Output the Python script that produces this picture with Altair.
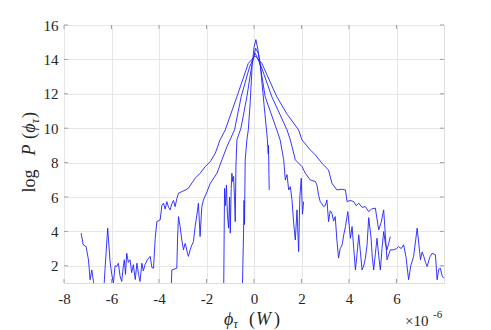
import altair as alt
import pandas as pd

# x in units of 1e-6 W, y = log P
a_x = [-7.28, -7.19, -7.07, -6.97, -6.9, -6.83, -6.76, -6.7, -6.35, -6.27, -6.16, -6.06, -5.99, -5.92, -5.85, -5.78,
       -5.71, -5.64, -5.57, -5.5, -5.46, -5.41, -5.36, -5.29, -5.22, -5.15, -5.08, -5.0, -4.93, -4.86, -4.8, -4.72,
       -4.66, -4.59, -4.49, -4.37, -4.3, -4.23, -4.16, -4.09, -3.95, -3.88, -3.81, -3.74, -3.67, -3.6, -3.53, -3.46,
       -3.39, -3.32, -3.25, -3.18, -3.04, -2.9, -2.76, -2.48, -2.27, -2.05, -1.84, -1.63, -1.43, -1.21, -0.72, -0.24,
       0.05, 0.33, 0.96, 1.4, 1.88, 2.02, 2.37, 2.58, 2.9, 3.14, 3.28, 3.49, 3.7, 3.85, 3.92, 4.05, 4.2, 4.3, 4.41,
       4.55, 4.69, 4.83, 4.95, 5.11, 5.25, 5.35, 5.46, 5.6, 5.74, 5.88, 6.0, 6.09, 6.2, 6.3, 6.4, 6.51, 6.6, 6.72, 6.87,
       7.01, 7.08, 7.15, 7.22, 7.29, 7.4, 7.5, 7.64, 7.71, 7.78, 7.85, 7.92, 7.99]
a_y = [3.9, 3.22, 3.12, 2.35, 1.19, 1.76, 1.09, 0.0, 0.0, 1.86, 4.19, 2.25, 1.5, 1.0, 2.0, 1.96,
       2.15, 1.4, 1.09, 2.0, 2.35, 1.5, 2.73, 2.2, 2.35, 1.6, 2.06, 1.2, 2.15, 1.5, 1.09, 2.15,
       1.7, 2.06, 2.35, 2.55, 1.9, 1.86, 3.6, 4.57, 4.67, 5.5, 5.64, 5.3, 5.73, 5.4, 5.25, 5.6,
       5.8, 5.44, 5.9, 6.22, 6.31, 6.4, 6.51, 7.09, 7.38, 7.77, 8.06, 8.54, 9.32, 9.9, 11.83, 13.77,
       14.2, 13.77, 11.83, 10.8, 9.9, 9.32, 8.74, 8.45, 7.9, 7.57, 6.8, 6.41, 6.45, 6.41, 5.73, 5.8, 5.73, 5.5, 5.64,
       5.4, 5.44, 5.15, 5.3, 5.35, 4.09, 4.5, 5.25, 2.35, 2.93, 2.93, 3.0, 3.12, 3.0, 3.22, 2.5, 1.19, 2.0, 2.54, 4.19,
       2.35, 2.8, 2.54, 2.2, 1.96, 2.5, 2.73, 2.64, 1.19, 1.8, 1.86, 1.4, 1.28]

b_x = [-3.5, -3.46, -3.25, -3.22, -3.18, -3.11, -3.04, -2.97, -2.9, -2.86, -2.8, -2.76, -2.69, -2.62, -2.55, -2.48,
       -2.41, -2.34, -2.27, -2.2, -2.13, -1.98, -1.84, -1.56, -1.35, -1.14, -0.82, -0.54, -0.2, 0.05,
       0.3, 0.75, 1.39, 1.53, 1.74, 2.02, 2.16, 2.37, 2.58, 2.65, 2.72, 2.79, 2.86, 2.93, 3.0, 3.07, 3.14,
       3.21, 3.28, 3.35, 3.42, 3.49, 3.56, 3.63, 3.71, 3.78, 3.85, 3.95, 4.06, 4.13, 4.2, 4.27, 4.34, 4.41, 4.48, 4.55,
       4.62, 4.69, 4.76, 4.83, 4.93, 4.98, 5.04, 5.11, 5.18, 5.25, 5.32, 5.39, 5.46, 5.53, 5.6, 5.67, 5.74]
b_y = [0.0, 1.76, 1.86, 3.5, 4.86, 4.28, 3.5, 2.93, 3.3, 3.12, 2.7, 2.55, 2.93, 3.2, 3.41, 4.28,
       4.9, 5.64, 3.7, 5.4, 5.83, 6.3, 6.8, 7.38, 8.16, 8.93, 9.9, 11.83, 13.5, 14.36,
       13.6, 11.83, 9.9, 9.32, 8.16, 7.77, 7.38, 6.99, 6.9, 6.7, 6.1, 5.73, 5.6, 5.44, 5.5, 5.83, 4.57,
       5.2, 5.06, 4.6, 4.86, 3.5, 2.45, 3.0, 3.22, 3.8, 4.28, 5.15, 3.6, 4.28, 3.0, 1.76, 2.7, 3.8, 2.8, 1.76,
       2.0, 2.45, 3.2, 4.8, 3.6, 2.5, 1.76, 2.7, 3.6, 2.6, 1.76, 3.0, 3.99, 3.3, 2.93, 3.3, 3.7]

c_x = [-1.28, -1.24, -1.2, -1.16, -1.12, -1.07, -1.03, -1.0, -0.96, -0.93, -0.9, -0.86, -0.82, -0.79, -0.76, -0.72,
       -0.55, -0.3, -0.1, 0.07, 0.18, 0.47, 0.96, 1.1, 1.25, 1.32, 1.39, 1.46, 1.53, 1.6, 1.67,
       1.74, 1.81, 1.88, 1.93, 1.99, 2.04, 2.09]
c_y = [0.0, 6.5, 5.5, 6.7, 5.0, 4.19, 6.0, 3.9, 6.5, 7.38, 6.9, 7.2, 6.0, 4.57, 7.8, 9.32,
       10.0, 11.83, 13.6, 14.65, 14.36, 11.83, 9.9, 9.32, 8.16, 6.99, 7.3, 6.41, 6.6, 5.83, 4.48,
       3.5, 5.25, 2.83, 6.0, 7.09, 5.0, 5.73]

d_x = [-0.5, -0.44, -0.42, -0.4, -0.37, -0.3, -0.24, -0.16, -0.08, 0.0, 0.08, 0.16, 0.26, 0.42, 0.56, 0.6, 0.61, 0.64]
d_y = [0.0, 3.9, 5.8, 4.4, 8.16, 9.32, 9.9, 11.5, 13.6, 14.7, 15.15, 14.6, 13.77, 11.4, 9.4, 8.5, 9.0, 6.41]

x_ticks = [-8, -6, -4, -2, 0, 2, 4, 6]
y_ticks = [2, 4, 6, 8, 10, 12, 14, 16]

rows = []
for name, xs, ys in [("A", a_x, a_y), ("B", b_x, b_y), ("C", c_x, c_y), ("D", d_x, d_y)]:
    for xv, yv in zip(xs, ys):
        rows.append({"curve": name, "x": xv, "y": yv})
df = pd.DataFrame(rows)

W, H = 380, 258
FONT = "Liberation Serif"
TXT = "#262626"
AX = "#a0a0a0"
xscale = alt.Scale(domain=[-8, 8], nice=False, zero=False)
yscale = alt.Scale(domain=[1, 16], nice=False, zero=False)

xaxis = alt.Axis(values=x_ticks, title=None, grid=True, gridColor="#e6e6e6", domain=False, ticks=False,
                 tickSize=0, labelFont=FONT, labelFontSize=15, labelColor=TXT, labelPadding=8,
                 labelOverlap=False, labelFlush=False,
                 labelExpr="datum.value < 0 ? '-' + (-datum.value) : '' + datum.value")
yaxis = alt.Axis(values=y_ticks, title=None, grid=True, gridColor="#e6e6e6", domain=False, ticks=False,
                 tickSize=0, labelFont=FONT, labelFontSize=15, labelColor=TXT, labelPadding=6,
                 labelOverlap=False, labelFlush=False)

lines = alt.Chart(df).mark_line(color="#2020ff", strokeWidth=0.9, clip=True).encode(
    x=alt.X("x:Q", scale=xscale, axis=xaxis),
    y=alt.Y("y:Q", scale=yscale, axis=yaxis),
    detail="curve:N",
)

xt = pd.DataFrame({"v": x_ticks})
yt = pd.DataFrame({"v": y_ticks})
tick_bottom = alt.Chart(xt).mark_rule(color=AX, strokeWidth=1).encode(
    x=alt.X("v:Q", scale=xscale, axis=xaxis), y=alt.value(H), y2=alt.value(H - 4))
tick_top = alt.Chart(xt).mark_rule(color=AX, strokeWidth=1).encode(
    x=alt.X("v:Q", scale=xscale, axis=xaxis), y=alt.value(0), y2=alt.value(4))
tick_left = alt.Chart(yt).mark_rule(color=AX, strokeWidth=1).encode(
    y=alt.Y("v:Q", scale=yscale, axis=yaxis), x=alt.value(0), x2=alt.value(4))
tick_right = alt.Chart(yt).mark_rule(color=AX, strokeWidth=1).encode(
    y=alt.Y("v:Q", scale=yscale, axis=yaxis), x=alt.value(W), x2=alt.value(W - 4))


def label(text, x, y, size, italic=False, angle=0, align="center", baseline="alphabetic"):
    return alt.Chart(alt.Data(values=[{}])).mark_text(
        text=text, font=FONT, fontSize=size, fontStyle="italic" if italic else "normal",
        angle=angle, align=align, baseline=baseline, color=TXT
    ).encode(x=alt.value(x), y=alt.value(y))


texts = [
    # x title: phi_tau (W)
    label("ϕ", 160, 300, 18, italic=True, align="left"),
    label("τ", 169.5, 303, 12, italic=True, align="left"),
    label("(", 185, 300, 18, align="left"),
    label("W", 192, 300, 18, italic=True, align="left"),
    label(")", 210, 300, 18, align="left"),
    # exponent
    label("×10", 341, 301, 15, align="left"),
    label("-6", 369, 293, 11, align="left"),
    # y title: log P (phi_tau)
    label("log", -29, 156, 18, angle=270),
    label("P", -29, 125, 18, italic=True, angle=270),
    label("(", -29, 111, 18, angle=270),
    label("ϕ", -29, 103, 18, italic=True, angle=270),
    label("τ", -25, 96, 12, italic=True, angle=270),
    label(")", -29, 90, 18, angle=270),
]

chart = alt.layer(lines, tick_bottom, tick_top, tick_left, tick_right, *texts).properties(
    width=W, height=H,
    autosize=alt.AutoSizeParams(type="none"),
    padding={"left": 56, "top": 17, "right": 39, "bottom": 47},
).configure_view(stroke=AX, strokeWidth=1).configure(background="white").configure_axis(
    labelFont=FONT, labelFontSize=15, labelColor=TXT
)

chart.save("out.html", embed_options={"renderer": "svg", "actions": False})
